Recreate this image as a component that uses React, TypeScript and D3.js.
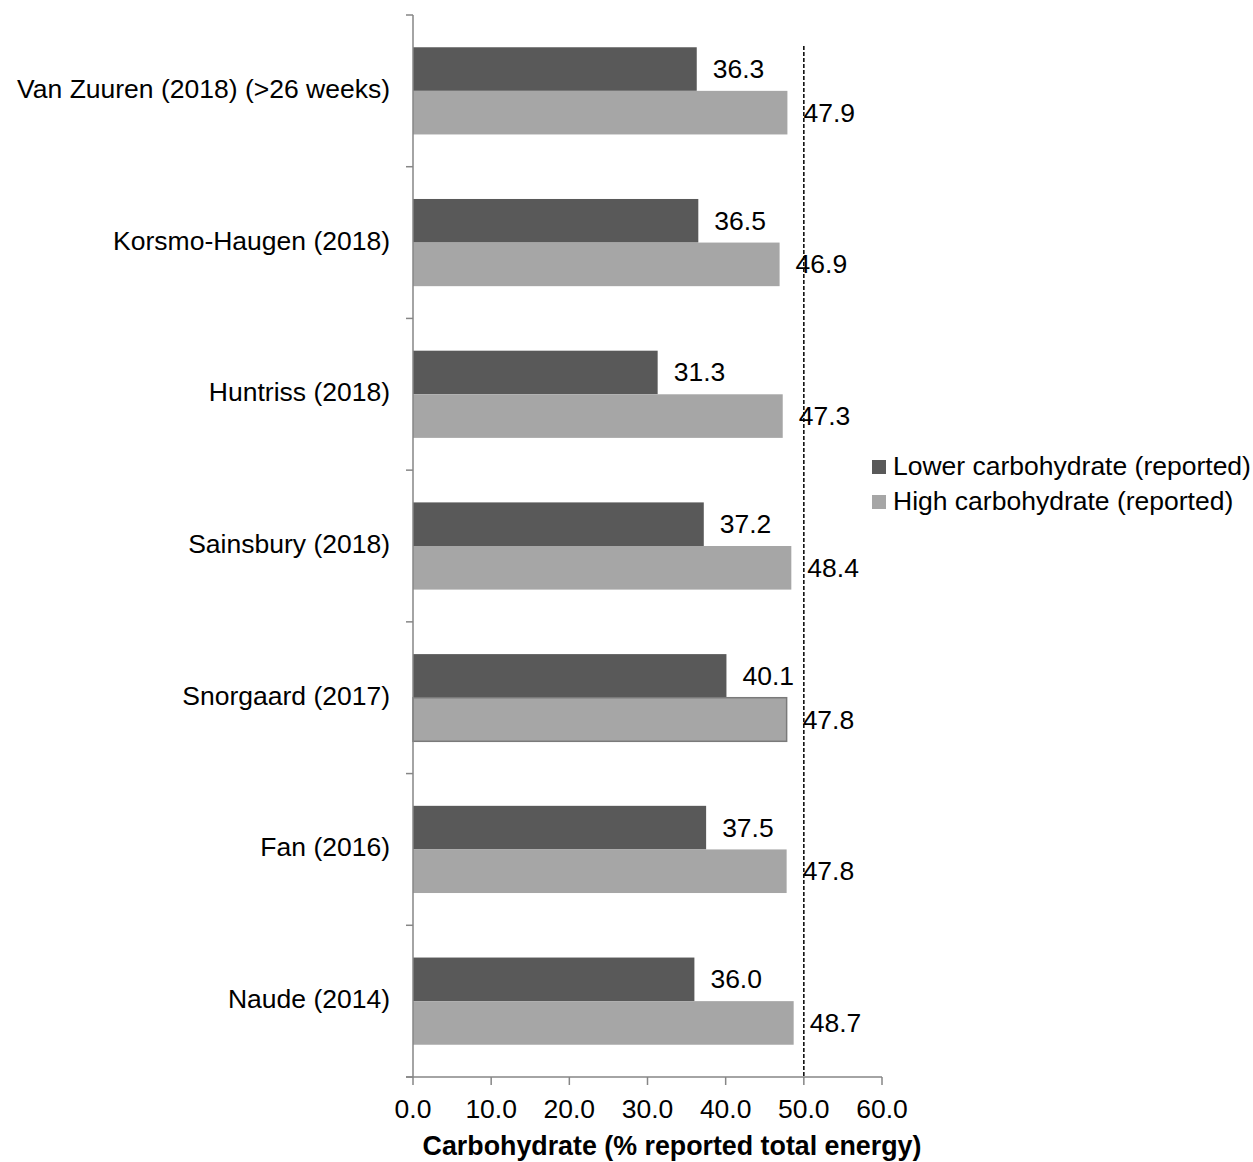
import React from "react";
import * as d3 from "d3";

const categories = [
  "Van Zuuren (2018) (>26 weeks)",
  "Korsmo-Haugen (2018)",
  "Huntriss (2018)",
  "Sainsbury (2018)",
  "Snorgaard (2017)",
  "Fan (2016)",
  "Naude (2014)",
];
const lowerCarb = [36.3, 36.5, 31.3, 37.2, 40.1, 37.5, 36.0];
const highCarb = [47.9, 46.9, 47.3, 48.4, 47.8, 47.8, 48.7];
const seriesNames = ["Lower carbohydrate (reported)", "High carbohydrate (reported)"];
const xTicks = [0, 10, 20, 30, 40, 50, 60];
const referenceValue = 50;
const xTitle = "Carbohydrate (% reported total energy)";

const W = 1253;
const H = 1162;
const FONT = "'Liberation Sans', Arial, sans-serif";
const colors = ["#595959", "#a6a6a6"];
const axisColor = "#868686";

export default function App() {
  const x = d3.scaleLinear().domain([0, 60]).range([413, 882]);
  const y = d3.scaleBand<string>().domain(categories).range([15, 1077]).padding(0);
  const inner = d3
    .scaleBand<string>()
    .domain(["low", "high"])
    .range([0, y.bandwidth()])
    .paddingInner(0)
    .paddingOuter(0.74);
  const fs = 26.5;
  const bandEdges = categories.map((c) => y(c) as number).concat([1077]);
  return (
    <svg
      width={W}
      height={H}
      style={{ position: "absolute", left: 0, top: 0, background: "#fff" }}
      fontFamily={FONT}
    >
      {/* bars */}
      {categories.map((c, i) => {
        const y0 = y(c) as number;
        const vals = [lowerCarb[i], highCarb[i]];
        return (
          <g key={c}>
            {["low", "high"].map((k, j) => {
              const by = y0 + (inner(k) as number);
              const bh = inner.bandwidth();
              return (
                <g key={k}>
                  <rect
                    x={x(0)}
                    y={by}
                    width={x(vals[j]) - x(0)}
                    height={bh}
                    fill={colors[j]}
                    stroke={j === 1 && c === "Snorgaard (2017)" ? "#7a7a7a" : "none"}
                    strokeWidth={1.5}
                  />
                  <text
                    x={x(vals[j]) + 16}
                    y={by + bh / 2 + 2}
                    dominantBaseline="middle"
                    fontSize={fs}
                    fill="#000"
                  >
                    {vals[j].toFixed(1)}
                  </text>
                </g>
              );
            })}
            <text
              x={390}
              y={y0 + y.bandwidth() / 2}
              textAnchor="end"
              dominantBaseline="middle"
              fontSize={fs}
              fill="#000"
            >
              {c}
            </text>
          </g>
        );
      })}
      {/* y axis */}
      <line x1={x(0)} x2={x(0)} y1={15} y2={1077} stroke={axisColor} strokeWidth={1.5} />
      {bandEdges.map((e, i) => (
        <line key={i} x1={406} x2={x(0)} y1={e} y2={e} stroke={axisColor} strokeWidth={1.5} />
      ))}
      {/* x axis */}
      <line x1={406} x2={x(60)} y1={1077} y2={1077} stroke={axisColor} strokeWidth={1.5} />
      {xTicks.map((t) => (
        <g key={t}>
          <line x1={x(t)} x2={x(t)} y1={1077} y2={1085} stroke={axisColor} strokeWidth={1.5} />
          <text x={x(t)} y={1118} textAnchor="middle" fontSize={fs} fill="#000">
            {t.toFixed(1)}
          </text>
        </g>
      ))}
      {/* reference line */}
      <line
        x1={x(referenceValue)}
        x2={x(referenceValue)}
        y1={46}
        y2={1077}
        stroke="#000"
        strokeWidth={1.5}
        strokeDasharray="4,2"
      />
      <text
        x={672}
        y={1155}
        textAnchor="middle"
        fontSize={26.8}
        fontWeight="bold"
        fill="#000"
      >
        {xTitle}
      </text>
      {/* legend */}
      {seriesNames.map((s, i) => (
        <g key={s}>
          <rect x={872} y={460 + i * 35} width={14} height={14} fill={colors[i]} />
          <text x={893} y={467 + i * 35 + 1} dominantBaseline="middle" fontSize={fs} fill="#000">
            {s}
          </text>
        </g>
      ))}
    </svg>
  );
}
